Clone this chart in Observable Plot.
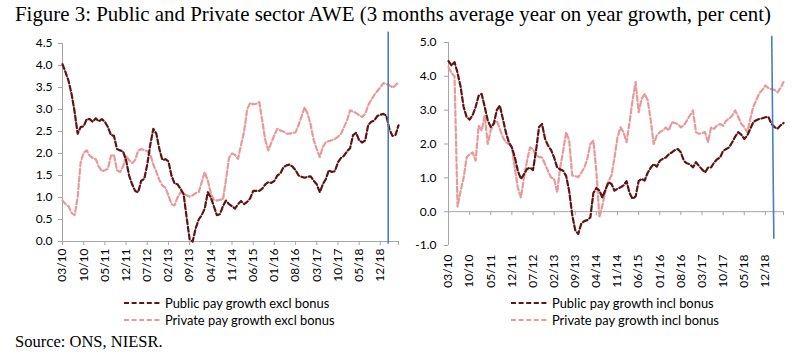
<!DOCTYPE html>
<html>
<head>
<meta charset="utf-8">
<script src="https://cdn.jsdelivr.net/npm/d3@7"></script>
<script src="https://cdn.jsdelivr.net/npm/@observablehq/plot@0.6"></script>
<style>
  html, body { margin: 0; padding: 0; background: #fff; }
  #wrap { position: relative; width: 794px; height: 362px; background: #fff; overflow: hidden; }
  .title { position: absolute; left: 15px; top: 2px; font-family: "Liberation Serif", "Times New Roman", serif; font-size: 20.9px; color: #000; white-space: nowrap; }
  .source { position: absolute; left: 15px; top: 332px; font-family: "Liberation Serif", "Times New Roman", serif; font-size: 16.5px; color: #000; white-space: nowrap; }
  .panel { position: absolute; top: 30px; }
  .legend { position: absolute; font-family: Lato, sans-serif; font-size: 12.9px; color: #000; }
  .legend div { height: 16.5px; display: flex; align-items: center; white-space: nowrap; }
  .legend svg { margin-right: 3px; }
</style>
</head>
<body>
<div id="wrap">
  <div class="title">Figure 3: Public and Private sector AWE (3 months average year on year growth, per cent)</div>
  <div id="left" class="panel" style="left:0px"></div>
  <div id="right" class="panel" style="left:386px"></div>
  <div class="legend" style="left:124px; top:295px">
    <div><svg width="38" height="4"><line x1="0" y1="2" x2="38" y2="2" stroke="#5c1414" stroke-width="2.2" stroke-dasharray="5,2.6"/></svg>Public pay growth excl bonus</div>
    <div><svg width="38" height="4"><line x1="0" y1="2" x2="38" y2="2" stroke="#e79a9a" stroke-width="2.2" stroke-dasharray="5,2.6"/></svg>Private pay growth excl bonus</div>
  </div>
  <div class="legend" style="left:511px; top:295px">
    <div><svg width="38" height="4"><line x1="0" y1="2" x2="38" y2="2" stroke="#5c1414" stroke-width="2.2" stroke-dasharray="5,2.6"/></svg>Public pay growth incl bonus</div>
    <div><svg width="38" height="4"><line x1="0" y1="2" x2="38" y2="2" stroke="#e79a9a" stroke-width="2.2" stroke-dasharray="5,2.6"/></svg>Private pay growth incl bonus</div>
  </div>
  <div class="source">Source: ONS, NIESR.</div>
</div>
<script>
// ---- categories: months from 03/10 to 06/19 ----
const startYear = 2010, startMonth = 3, monthCount = 112;
const monthLabels = [];
for (let k = 0; k < monthCount; k++) {
  const m = (startMonth - 1 + k) % 12 + 1;
  const y = startYear + Math.floor((startMonth - 1 + k) / 12);
  monthLabels.push(String(m).padStart(2, "0") + "/" + String(y % 100).padStart(2, "0"));
}
const tickLabels = ["03/10","10/10","05/11","12/11","07/12","02/13","09/13","04/14","11/14","06/15","01/16","08/16","03/17","10/17","05/18","12/18"];
const leftYTicks = [0, 0.5, 1, 1.5, 2, 2.5, 3, 3.5, 4, 4.5];
const rightYTicks = [-1, 0, 1, 2, 3, 4, 5];

// ---- series values (per cent) ----
const publicExcl = [
  4.03, 3.85, 3.65, 3.35, 2.95, 2.45, 2.6, 2.62, 2.78, 2.78,
  2.72, 2.8, 2.73, 2.78, 2.72, 2.6, 2.42, 2.4, 2.1, 2.07,
  2.05, 1.85, 1.5, 1.3, 1.15, 1.12, 1.38, 1.42, 1.75, 2.2,
  2.56, 2.45, 2.1, 1.85, 1.87, 1.82, 1.5, 1.32, 1.3, 1.2,
  1.08, 0.55, 0.05, 0.0, 0.3, 0.5, 0.6, 0.75, 1.12, 1.0,
  0.8, 0.6, 0.62, 0.8, 0.93, 0.85, 0.8, 0.75, 0.85, 0.92,
  0.85, 0.9, 0.98, 1.15, 1.15, 1.15, 1.2, 1.3, 1.35, 1.33,
  1.38, 1.5, 1.55, 1.69, 1.73, 1.75, 1.7, 1.62, 1.5, 1.47,
  1.45, 1.47, 1.48, 1.38, 1.3, 1.12, 1.3, 1.42, 1.62, 1.58,
  1.6, 1.8, 1.9, 1.95, 2.05, 2.12, 2.42, 2.47, 2.3, 2.25,
  2.3, 2.65, 2.72, 2.75, 2.85, 2.88, 2.9, 2.86, 2.55, 2.4,
  2.42, 2.64
];
const privateExcl = [
  0.93, 0.85, 0.8, 0.65, 0.6, 1.0, 1.8, 2.02, 2.07, 1.95,
  1.9, 1.87, 1.7, 1.6, 1.62, 1.65, 1.95, 1.97, 1.62, 1.58,
  1.7, 1.95, 1.85, 1.78, 1.85, 2.07, 2.1, 2.08, 2.05, 1.98,
  1.75, 1.58, 1.4, 1.27, 1.22, 1.05, 0.85, 0.82, 1.0, 1.12,
  1.1, 1.05, 1.02, 1.05, 1.1, 1.12, 1.35, 1.58, 1.38, 1.1,
  0.95, 0.93, 0.95, 0.95, 1.4, 1.9, 2.0, 1.97, 1.88, 2.2,
  2.5, 3.0, 3.15, 3.12, 3.13, 3.17, 2.75, 2.3, 2.07, 2.25,
  2.42, 2.56, 2.52, 2.5, 2.45, 2.45, 2.47, 2.48, 2.65, 2.85,
  3.05, 2.9, 2.65, 2.3, 2.1, 1.92, 2.15, 2.26, 2.28, 2.3,
  2.33, 2.38, 2.45, 2.6, 2.75, 2.98, 2.95, 2.92, 2.87, 2.83,
  2.9, 3.1, 3.22, 3.33, 3.42, 3.5, 3.6, 3.58, 3.55, 3.5,
  3.55, 3.62
];
const publicIncl = [
  4.45, 4.32, 4.42, 4.1, 3.7, 3.1, 2.8, 2.72, 2.85, 3.1,
  3.43, 3.48, 3.1, 2.7, 2.5, 2.6, 3.0, 3.14, 2.75, 2.35,
  2.05, 1.9, 1.6, 1.2, 0.97, 1.1, 1.26, 1.3, 1.23, 1.8,
  2.5, 2.59, 2.15, 1.95, 1.82, 1.6, 1.31, 1.25, 1.21, 1.05,
  0.6, -0.1, -0.55, -0.66, -0.35, -0.28, -0.25, -0.17, 0.55, 0.7,
  0.62, 0.42, 0.65, 0.87, 0.82, 0.62, 0.68, 0.72, 0.78, 0.9,
  0.55, 0.38, 0.45, 0.9, 0.97, 0.92, 1.15, 1.3, 1.41, 1.33,
  1.5, 1.56, 1.6, 1.7, 1.75, 1.82, 1.85, 1.75, 1.5, 1.43,
  1.4, 1.31, 1.46, 1.35, 1.25, 1.16, 1.3, 1.31, 1.45, 1.55,
  1.6, 1.8, 1.85, 1.9, 2.05, 2.22, 2.35, 2.28, 2.15, 2.25,
  2.45, 2.65, 2.7, 2.74, 2.76, 2.79, 2.8, 2.6, 2.5, 2.45,
  2.55, 2.62
];
const privateIncl = [
  4.27, 4.1, 4.0, 0.15, 0.6, 1.0, 1.6, 1.7, 1.75, 1.51,
  2.54, 2.4, 2.84, 2.0, 2.4, 2.6, 2.69, 2.45, 2.2, 2.05,
  2.0, 1.9, 1.26, 0.7, 0.42, 1.0, 1.5, 1.9, 1.85, 1.66,
  1.62, 1.6, 1.4, 1.2, 1.01, 0.97, 0.57, 1.3, 1.8, 2.35,
  2.1, 1.07, 1.05, 1.02, 1.15, 1.3, 1.56, 2.0, 2.1, 1.2,
  -0.17, 0.2, 0.6, 0.9, 1.07, 1.6, 2.2, 2.49, 2.35, 2.05,
  2.64, 3.3, 3.83, 2.94, 3.33, 3.48, 3.3, 2.7, 2.0, 2.25,
  2.35, 2.4, 2.49, 2.4, 2.64, 2.62, 2.59, 2.49, 2.55, 2.7,
  2.85, 2.99, 2.35, 2.3, 2.32, 2.35, 2.05, 2.49, 2.45, 2.55,
  2.59, 2.54, 2.69, 2.75, 2.84, 2.99, 2.8, 2.6, 2.5, 2.35,
  2.74, 3.1, 3.3, 3.5, 3.6, 3.73, 3.65, 3.62, 3.6, 3.53,
  3.65, 3.83
];

// Position of the vertical blue marker line (in months from 03/10)
const markerLeft = { x1: 107.6, x2: 107.6, y1: 4.77, y2: -0.05 };
const markerRight = { x1: 107.1, x2: 107.8, y1: 5.2, y2: -0.8 };

const darkColor = "#5c1414";
const pinkColor = "#e79a9a";
const axisGray = "#a6a6a6";
const blue = "#4a7ebf";

const tickIdx = tickLabels.map(l => monthLabels.indexOf(l));
const lastIdx = monthCount - 1;
const rows = arr => arr.map((v, i) => ({ i, v }));

function panel({ pub, priv, yDomain, yTicks, width, height, mt, mb, mr, marker, tickPad }) {
  const pxPerUnit = (height - mt - mb) / (yDomain[1] - yDomain[0]);
  return Plot.plot({
    width, height,
    marginLeft: 62, marginRight: mr, marginTop: mt, marginBottom: mb,
    style: { fontFamily: "Lato, sans-serif", fontSize: "12px", color: "#000", background: "transparent", overflow: "visible" },
    x: { domain: [0, lastIdx] },
    y: { domain: yDomain },
    marks: [
      Plot.ruleY([0], { x1: 0, x2: lastIdx, stroke: axisGray, strokeWidth: 1 }),
      Plot.ruleX([0], { y1: yDomain[0], y2: yDomain[1], stroke: axisGray, strokeWidth: 1 }),
      Plot.ruleX(tickIdx.concat([lastIdx]), { y1: 0, y2: -4 / pxPerUnit, stroke: axisGray, strokeWidth: 1 }),
      Plot.axisY({ ticks: yTicks, tickFormat: d => d.toFixed(1), tickSize: 4, tickPadding: tickPad, stroke: axisGray, fill: "#000" }),
      Plot.axisX({ ticks: tickIdx, tickFormat: i => monthLabels[i], tickRotate: -90, tickSize: 0, tickPadding: yDomain[0] === 0 ? 7 : 9, fill: "#000", anchor: "bottom" }),
      Plot.line(rows(priv), { x: "i", y: "v", stroke: pinkColor, strokeWidth: 2.2, strokeDasharray: "5,2.6", curve: "linear" }),
      Plot.line(rows(pub), { x: "i", y: "v", stroke: darkColor, strokeWidth: 2.2, strokeDasharray: "5,2.6", curve: "linear" }),
      Plot.link([marker], { x1: "x1", x2: "x2", y1: "y1", y2: "y2", stroke: blue, strokeWidth: 1.6 })
    ]
  });
}

document.getElementById("left").appendChild(panel({
  pub: publicExcl, priv: privateExcl, yDomain: [0, 4.5], yTicks: leftYTicks,
  width: 400, height: 260, mt: 13, mb: 49, mr: 2, marker: markerLeft, tickPad: 6
}));
document.getElementById("right").appendChild(panel({
  pub: publicIncl, priv: privateIncl, yDomain: [-1, 5], yTicks: rightYTicks,
  width: 408, height: 260, mt: 12, mb: 45, mr: 11, marker: markerRight, tickPad: 8
}));
</script>
</body>
</html>
